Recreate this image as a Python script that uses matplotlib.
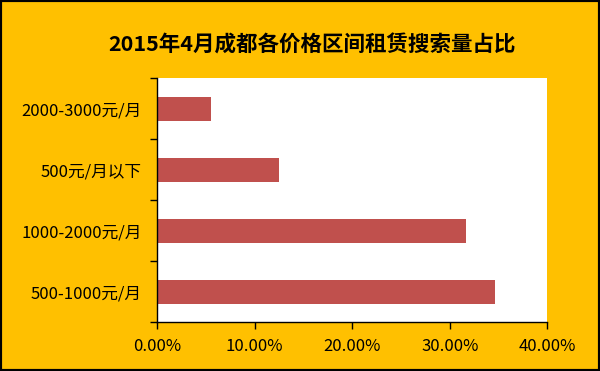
import matplotlib.pyplot as plt
from matplotlib.patches import Rectangle
from matplotlib.ticker import FuncFormatter, FixedLocator

plt.rcParams['font.family'] = ['Noto Sans CJK SC', 'DejaVu Sans']

title = "2015年4月成都各价格区间租赁搜索量占比"
categories = ["500-1000元/月", "1000-2000元/月", "500元/月以下", "2000-3000元/月"]
shares = [34.67, 31.66, 12.49, 5.51]

fig = plt.figure(figsize=(6, 3.71), dpi=100)
fig.patch.set_facecolor("#FFC000")
ax = fig.add_axes([0.262, 0.131, 0.650, 0.658])
ax.set_facecolor("white")

y = range(len(categories))
ax.barh(y, shares, height=0.4, color="#C0504D")
ax.set_xlim(0, 40)
ax.set_ylim(-0.5, len(categories) - 0.5)

ax.set_xticks([0, 10, 20, 30, 40])
ax.xaxis.set_major_formatter(FuncFormatter(lambda v, p: f"{v:.2f}%"))
ax.set_yticks(list(y))
ax.set_yticklabels(categories)
ax.yaxis.set_minor_locator(FixedLocator([i - 0.5 for i in range(len(categories) + 1)]))
ax.tick_params(axis="y", which="major", length=0, pad=11, labelsize=12)
ax.tick_params(axis="y", which="minor", length=5, width=1, direction="out")
ax.tick_params(axis="x", length=5, width=1, direction="out", labelsize=12, pad=6)

for s in ["top", "right"]:
    ax.spines[s].set_visible(False)
for s in ["left", "bottom"]:
    ax.spines[s].set_color("black")
    ax.spines[s].set_linewidth(1)

fig.text(0.52, 0.878, title, ha="center", va="center", fontsize=15.5, fontweight="bold")

fig.patches.append(Rectangle((0, 0), 1, 1, transform=fig.transFigure, fill=False,
                             edgecolor="black", linewidth=3))

fig.savefig("out.png", dpi=100, facecolor=fig.get_facecolor())
